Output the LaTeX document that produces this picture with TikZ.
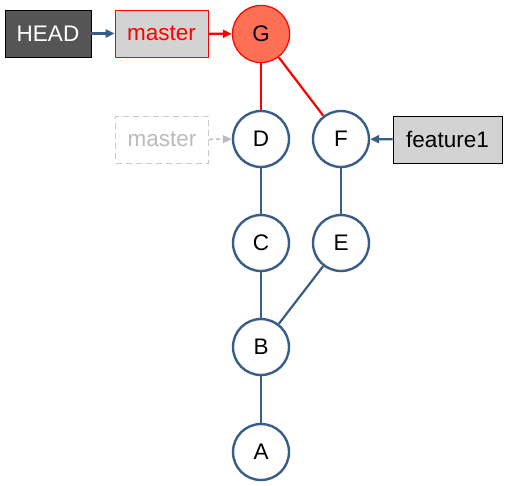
\documentclass[tikz,border=0pt]{standalone}
\usepackage{fontspec}
\setmainfont{Liberation Sans}
\usetikzlibrary{arrows.meta}
\definecolor{edgeblue}{HTML}{385D8A}
\definecolor{boxgray}{HTML}{D3D3D3}
\definecolor{headgray}{HTML}{555555}
\definecolor{ghost}{HTML}{BBBBBB}
\definecolor{gfill}{HTML}{FF7055}
\begin{document}
\begin{tikzpicture}[x=1pt,y=-1pt,
  every node/.style={font=\fontsize{22.5}{26}\selectfont, inner sep=0pt},
  commit/.style={circle, draw=edgeblue, line width=2.4pt, fill=white, minimum size=56pt},
  refbox/.style={rectangle, draw=black, line width=0.9pt, fill=boxgray, minimum height=47pt},
  link/.style={draw=edgeblue, line width=2.2pt},
  tip/.style={-{Triangle[length=9pt,width=8pt]}, line width=2.2pt}
]
\useasboundingbox (0,0) rectangle (508,485);
\node[refbox, fill=headgray, text=white, minimum width=86pt] (head) at (48,33.5) {HEAD};
\node[refbox, draw=red, text=red, minimum width=93pt] (master) at (161.5,33.5) {master};
\node[commit, draw=red, fill=gfill, line width=1.2pt, minimum size=57.2pt] (G) at (261,34) {G};
\node[commit] (D) at (261,139) {D};
\node[commit] (F) at (341,139) {F};
\node[commit] (C) at (261,243) {C};
\node[commit] (E) at (341,243) {E};
\node[commit] (B) at (261,347) {B};
\node[commit] (A) at (261,452) {A};
\node[rectangle, draw=ghost!80, dashed, dash pattern=on 6pt off 4pt, line width=0.9pt, text=ghost, minimum width=93pt, minimum height=47pt] (oldmaster) at (162,139.5) {master};
\node[refbox, minimum width=109pt] (feat) at (447.5,139.5) {feature1};

\draw[tip, edgeblue] (head) -- (master);
\draw[tip, red] (master) -- (G);
\draw[red, line width=2.2pt] (G) -- (D);
\draw[red, line width=2.2pt] (G) -- (F);
\draw[link] (D) -- (C);
\draw[link] (C) -- (B);
\draw[link] (B) -- (E);
\draw[link] (E) -- (F);
\draw[link] (B) -- (A);
\draw[-{Triangle[length=9pt,width=8pt]}, ghost, line width=1.5pt, dashed, dash pattern=on 4pt off 3pt] (oldmaster) -- (D);
\draw[tip, edgeblue] (feat) -- (F);
\end{tikzpicture}
\end{document}
